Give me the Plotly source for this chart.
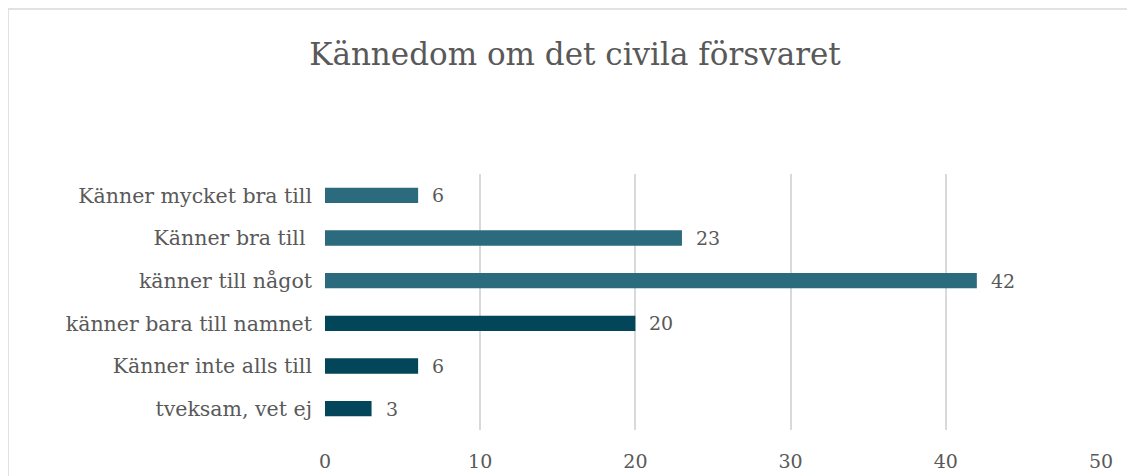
import plotly.graph_objects as go

categories = ["tveksam, vet ej", "Känner inte alls till", "känner bara till namnet",
              "känner till något", "Känner bra till\u00a0", "Känner mycket bra till"]
values = [3, 6, 20, 42, 23, 6]
bar_colors = ["#03465A", "#03465A", "#03465A", "#2B6B7D", "#2B6B7D", "#2B6B7D"]
x_ticks = [0, 10, 20, 30, 40, 50]

font_family = "DejaVu Serif, serif"
text_gray = "#595959"

# page offset of 8px (body margin) is compensated in margins
L, R, T, B = 317, 42, 166, 54
pw, ph = 1135 - L - R, 476 - T - B

fig = go.Figure()
fig.add_trace(go.Bar(
    x=values, y=categories, orientation="h",
    marker=dict(color=bar_colors, line=dict(width=0)),
    width=0.36, hoverinfo="x+y",
))

for v, c in zip(values, categories):
    fig.add_annotation(x=v, y=c, text=str(v), showarrow=False,
                       xanchor="left", xshift=12,
                       font=dict(family=font_family, size=19, color=text_gray))

fig.add_shape(type="rect", xref="paper", yref="paper",
              x0=(0 - L) / pw, x1=(1140 - L) / pw,
              y0=-(60) / ph, y1=(476 - B - 1) / ph,
              line=dict(color="#D9D9D9", width=1.5), fillcolor="rgba(0,0,0,0)", layer="below")

fig.update_layout(
    width=1135, height=476,
    margin=dict(l=L, r=R, t=T, b=B),
    paper_bgcolor="white", plot_bgcolor="white",
    showlegend=False,
    title=dict(text="Kännedom om det civila försvaret", xref="container",
               x=567 / 1135, xanchor="center", y=1 - 46 / 476, yanchor="middle",
               font=dict(family=font_family, size=31, color=text_gray)),
    font=dict(family=font_family, color=text_gray, size=19),
)

fig.update_xaxes(range=[0, 50], tickvals=x_ticks, showgrid=True, gridcolor="#D9D9D9",
                 gridwidth=1.5, zeroline=False, showline=False, ticks="",
                 ticklabelstandoff=18, tickfont=dict(size=19, color=text_gray))
fig.update_yaxes(showgrid=False, zeroline=False, showline=False, ticks="",
                 ticklabelstandoff=12, tickfont=dict(size=20.5, color=text_gray))

fig.write_html("out.html")
